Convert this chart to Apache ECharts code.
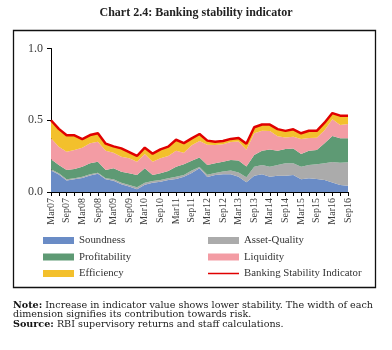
<!DOCTYPE html>
<html>
<head>
<meta charset="utf-8">
<script src="https://cdn.jsdelivr.net/npm/echarts@6/dist/echarts.min.js"></script>
<style>
html, body { margin: 0; padding: 0; background: #fff; }
#chart { width: 392px; height: 350px; }
</style>
</head>
<body>
<div id="chart"></div>
<script>
// quarterly, Mar07 .. Sep16
var quarters = ['Mar07','Jun07','Sep07','Dec07','Mar08','Jun08','Sep08','Dec08','Mar09','Jun09',
  'Sep09','Dec09','Mar10','Jun10','Sep10','Dec10','Mar11','Jun11','Sep11','Dec11',
  'Mar12','Jun12','Sep12','Dec12','Mar13','Jun13','Sep13','Dec13','Mar14','Jun14',
  'Sep14','Dec14','Mar15','Jun15','Sep15','Dec15','Mar16','Jun16','Sep16'];

var soundness = [0.150,0.122,0.080,0.088,0.098,0.115,0.127,0.088,0.078,0.054,
  0.038,0.020,0.050,0.065,0.072,0.084,0.091,0.107,0.132,0.165,
  0.105,0.118,0.123,0.123,0.107,0.068,0.114,0.123,0.107,0.114,
  0.114,0.118,0.088,0.095,0.091,0.084,0.067,0.049,0.044];
var assetQuality = [0.008,0.008,0.008,0.007,0.009,0.008,0.008,0.007,0.010,0.011,
  0.011,0.013,0.015,0.012,0.012,0.011,0.016,0.011,0.018,0.010,
  0.016,0.014,0.020,0.027,0.029,0.035,0.062,0.065,0.069,0.074,
  0.086,0.082,0.088,0.093,0.102,0.116,0.142,0.155,0.163];
var profitability = [0.070,0.058,0.065,0.065,0.069,0.077,0.076,0.058,0.077,0.076,
  0.081,0.085,0.100,0.041,0.046,0.051,0.069,0.075,0.067,0.065,
  0.067,0.068,0.068,0.073,0.084,0.075,0.082,0.100,0.121,0.100,
  0.100,0.104,0.089,0.100,0.100,0.139,0.181,0.170,0.167];
var liquidity = [0.146,0.128,0.128,0.133,0.133,0.139,0.140,0.135,0.109,0.105,
  0.105,0.093,0.100,0.093,0.105,0.105,0.112,0.081,0.108,0.115,
  0.142,0.128,0.121,0.125,0.132,0.117,0.151,0.139,0.128,0.101,
  0.080,0.081,0.105,0.088,0.085,0.091,0.117,0.093,0.099];
var efficiency = [0.126,0.124,0.114,0.102,0.060,0.058,0.058,0.049,0.044,0.058,
  0.043,0.040,0.044,0.056,0.062,0.065,0.076,0.067,0.049,0.049,
  0.028,0.022,0.023,0.022,0.025,0.041,0.042,0.043,0.045,0.049,
  0.046,0.052,0.039,0.051,0.048,0.053,0.043,0.065,0.058];
var bsi = [0.500,0.440,0.395,0.395,0.369,0.397,0.409,0.337,0.318,0.304,
  0.278,0.251,0.309,0.267,0.297,0.316,0.364,0.341,0.374,0.404,
  0.358,0.350,0.355,0.370,0.377,0.336,0.451,0.470,0.470,0.438,
  0.426,0.437,0.409,0.427,0.426,0.483,0.550,0.532,0.531];

var yTicks = [0, 0.5, 1.0];

var serif = '"Liberation Serif", "DejaVu Serif", serif';
var noteFont = '"DejaVu Serif", "Liberation Serif", serif';
var chart = echarts.init(document.getElementById('chart'));

function area(name, data, color) {
  return {
    name: name, type: 'line', stack: 'bsi', data: data,
    symbol: 'none', smooth: false,
    lineStyle: { width: 0 },
    itemStyle: { color: color },
    areaStyle: { color: color, opacity: 1 },
    emphasis: { disabled: true }
  };
}

var legendText = { fontFamily: serif, fontSize: 10.8, color: '#333' };
// thin line icon, padded so it keeps the 31x7 box
var lineIcon = 'path://M0,0L0.01,0L0.01,0.01ZM0,2.7L31,2.7L31,4.3L0,4.3ZM30.99,6.99L31,6.99L31,7Z';

chart.setOption({
  animation: false,
  textStyle: { fontFamily: serif },
  grid: { left: 51, right: 44, top: 48.5, bottom: 158, containLabel: false },
  legend: [{
    orient: 'vertical', left: 38, top: 230,
    itemWidth: 31, itemHeight: 7, itemGap: 5.5,
    textStyle: legendText,
    data: [{ name: 'Soundness', icon: 'rect' }, { name: 'Profitability', icon: 'rect' }, { name: 'Efficiency', icon: 'rect' }]
  }, {
    orient: 'vertical', left: 203, top: 230,
    itemWidth: 31, itemHeight: 7, itemGap: 5.5,
    textStyle: legendText,
    data: [{ name: 'Asset-Quality', icon: 'rect' }, { name: 'Liquidity', icon: 'rect' },
      { name: 'Banking Stability Indicator', icon: lineIcon }]
  }],
  xAxis: {
    type: 'category', data: quarters, boundaryGap: false,
    axisLine: { lineStyle: { color: '#000', width: 1 } },
    axisTick: { interval: 0, length: 4, lineStyle: { color: '#000' } },
    axisLabel: { interval: 1, rotate: 90, fontSize: 10, color: '#3a3a3a', margin: 6, fontFamily: serif }
  },
  yAxis: {
    type: 'value', min: yTicks[0], max: yTicks[2], interval: 0.5,
    splitLine: { show: false },
    axisLine: { show: true, lineStyle: { color: '#000', width: 1 } },
    axisTick: { show: true, length: 4, lineStyle: { color: '#000' } },
    axisLabel: { fontSize: 12, color: '#3a3a3a', margin: 8, fontFamily: serif,
      formatter: function (v) { return v.toFixed(1); } }
  },
  series: [
    area('Soundness', soundness, '#6a8cc6'),
    area('Asset-Quality', assetQuality, '#ababab'),
    area('Profitability', profitability, '#5e9a74'),
    area('Liquidity', liquidity, '#f39ca4'),
    area('Efficiency', efficiency, '#f3c02c'),
    {
      name: 'Banking Stability Indicator', type: 'line', data: bsi,
      symbol: 'none', z: 5,
      lineStyle: { color: '#e00000', width: 2.5 },
      itemStyle: { color: '#e00000' }
    }
  ],
  graphic: [
    { type: 'text', left: 'center', top: 7,
      style: { text: 'Chart 2.4: Banking stability indicator', font: 'bold 12px ' + serif, fill: '#222' } },
    { type: 'rect', shape: { x: 13.5, y: 30.5, width: 362, height: 257 },
      style: { fill: 'none', stroke: '#111', lineWidth: 1.3 }, z: -1 },
    { type: 'text', left: 13, top: 300,
      style: { rich: { b: { fontWeight: 'bold', fontFamily: noteFont, fontSize: 9.6, fill: '#111' },
                       n: { fontFamily: noteFont, fontSize: 9.6, fill: '#222' } },
               text: '{b|Note:}{n| Increase in indicator value shows lower stability. The width of each}' } },
    { type: 'text', left: 13, top: 309.5,
      style: { text: 'dimension signifies its contribution towards risk.', font: '9.6px ' + noteFont, fill: '#222' } },
    { type: 'text', left: 13, top: 319,
      style: { rich: { b: { fontWeight: 'bold', fontFamily: noteFont, fontSize: 9.6, fill: '#111' },
                       n: { fontFamily: noteFont, fontSize: 9.6, fill: '#222' } },
               text: '{b|Source:}{n| RBI supervisory returns and staff calculations.}' } }
  ]
});
</script>
</body>
</html>
